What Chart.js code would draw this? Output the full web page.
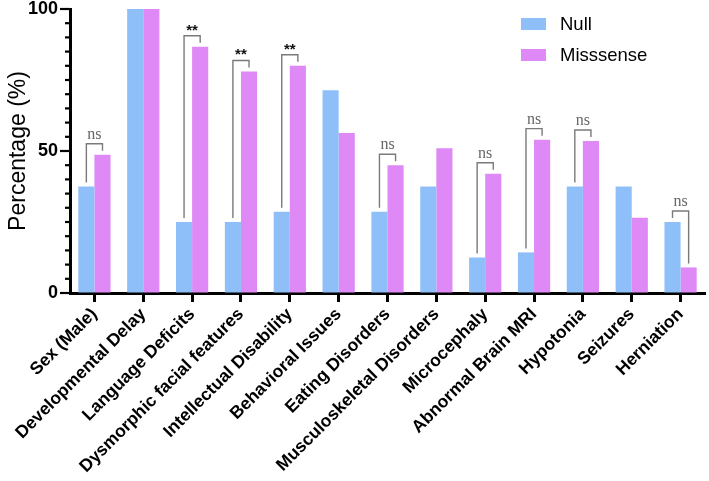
<!DOCTYPE html>
<html>
<head>
<meta charset="utf-8">
<script src="https://cdn.jsdelivr.net/npm/chart.js@4"></script>
<style>
  html,body{margin:0;padding:0;background:#fff;}
  #wrap{width:709px;height:481px;position:relative;}
</style>
</head>
<body>
<div id="wrap"><canvas id="chart"></canvas></div>
<script>
// === Data ===
const categories = ["Sex (Male)","Developmental Delay","Language Deficits","Dysmorphic facial features",
  "Intellectual Disability","Behavioral Issues","Eating Disorders","Musculoskeletal Disorders",
  "Microcephaly","Abnormal Brain MRI","Hypotonia","Seizures","Herniation"];
const nullValues     = [37.5,100,25,25,28.6,71.4,28.6,37.5,12.5,14.3,37.5,37.5,25];
const missenseValues = [48.7,100,86.7,78,80,56.3,45,51,42,54,53.5,26.5,9];
const significance   = ["ns","","**","**","**","","ns","","ns","ns","ns","","ns"];
const yTicks = [0,50,100];

const FONT = "'Liberation Sans', Arial, sans-serif";

// === Brackets + legend + y ticks ===
const extras = {
  id:"extras",
  afterDatasetsDraw(chart){
    const ctx=chart.ctx;
    const m0=chart.getDatasetMeta(0).data, m1=chart.getDatasetMeta(1).data;
    ctx.save();
    significance.forEach((s,i)=>{
      if(!s) return;
      const a=m0[i], b=m1[i];
      const top=Math.min(a.y,b.y)-11;
      ctx.strokeStyle="#7a7a7a"; ctx.lineWidth=1.4;
      ctx.beginPath();
      ctx.moveTo(a.x,a.y-4); ctx.lineTo(a.x,top); ctx.lineTo(b.x,top); ctx.lineTo(b.x,b.y-4);
      ctx.stroke();
      ctx.textAlign="center"; ctx.textBaseline="alphabetic";
      if(s==="ns"){ ctx.fillStyle="#666"; ctx.font="16px 'Liberation Serif', 'Times New Roman', serif"; ctx.fillText(s,(a.x+b.x)/2,top-5); }
      else { ctx.fillStyle="#111"; ctx.font="bold 15px "+FONT; ctx.fillText(s,(a.x+b.x)/2,top-1); }
    });
    ctx.restore();
  },
  afterDraw(chart){
    const ctx=chart.ctx, y=chart.scales.y;
    ctx.save();
    ctx.strokeStyle="#000"; ctx.lineWidth=2.2;
    y.ticks.forEach(t=>{
      const py=y.getPixelForValue(t.value);
      const len=yTicks.includes(t.value)?10:5;
      ctx.beginPath(); ctx.moveTo(y.right-len,py); ctx.lineTo(y.right,py); ctx.stroke();
    });
    // legend
    ctx.textAlign="left"; ctx.textBaseline="middle";
    ctx.font="18.5px "+FONT;
    chart.data.datasets.forEach((d,i)=>{
      const cy=24+i*31;
      ctx.fillStyle=d.backgroundColor;
      ctx.fillRect(521,cy-6,25,12);
      ctx.fillStyle="#000";
      ctx.fillText(d.label,560,cy+1);
    });
    ctx.restore();
  }
};

new Chart(document.getElementById("chart"),{
  type:"bar",
  data:{labels:categories,datasets:[
    {label:"Null",data:nullValues,backgroundColor:"#8ebff8"},
    {label:"Misssense",data:missenseValues,backgroundColor:"#de89f5"}
  ]},
  options:{
    responsive:true,maintainAspectRatio:false,animation:false,
    datasets:{bar:{barPercentage:1,categoryPercentage:0.66}},
    layout:{padding:{top:9,right:4,left:0,bottom:0}},
    plugins:{legend:{display:false},tooltip:{enabled:false}},
    scales:{
      x:{
        grid:{offset:false,drawOnChartArea:false,tickLength:9,tickWidth:3,tickColor:"#000"},
        border:{color:"#000",width:3},
        ticks:{color:"#000",maxRotation:45,minRotation:45,autoSkip:false,padding:2,
          font:{family:FONT,size:17.5,weight:"bold"}},
        afterFit(s){ s.height=188; }
      },
      y:{
        min:0,max:100,
        grid:{drawOnChartArea:false,drawTicks:false},
        border:{color:"#000",width:3},
        ticks:{stepSize:5,color:"#000",padding:12,autoSkip:false,
          callback:v=>yTicks.includes(v)?v:"",
          font:{family:FONT,size:18,weight:"bold"}},
        title:{display:true,text:"Percentage (%)",color:"#000",padding:{top:5,bottom:2},
          font:{family:FONT,size:23}},
        afterFit(s){ s.width=70; s.paddingTop=0; s.paddingBottom=0; }
      }
    }
  },
  plugins:[extras]
});
</script>
</body>
</html>
